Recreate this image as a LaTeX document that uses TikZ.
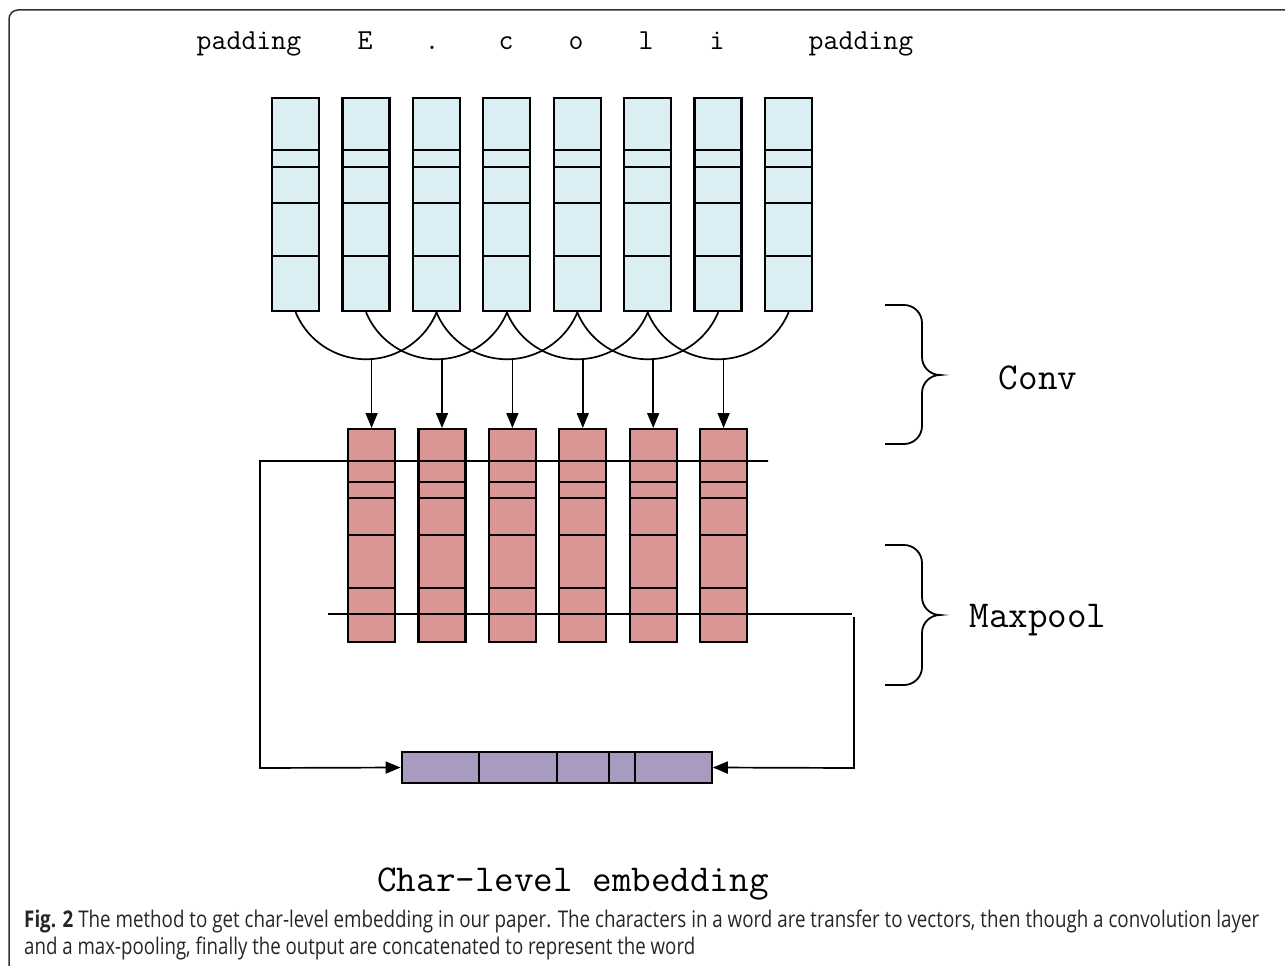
\documentclass[tikz,border=0pt]{standalone}
\usepackage{fontspec}
\usepackage{graphicx}
\newfontfamily\capfont{Open Sans}
\usetikzlibrary{arrows.meta,calc}
\definecolor{cblue}{HTML}{DAEEF3}
\definecolor{cred}{HTML}{D99694}
\definecolor{cpurple}{HTML}{A99BC0}
\tikzset{
  colbox/.style={draw=black, line width=2.2pt, minimum width=47pt, minimum height=213pt, inner sep=0pt, anchor=north west},
  cell/.style={line width=2.2pt},
  link/.style={line width=1.7pt},
  arr/.style={line width=1.7pt, -{Triangle[length=15pt,width=12pt]}},
  wire/.style={line width=1.7pt},
  wirearr/.style={line width=1.7pt, -{Triangle[length=15pt,width=12pt]}},
  brace/.style={line width=1.8pt},
  toplab/.style={font=\fontsize{29}{34}\selectfont\ttfamily, anchor=base, inner sep=0pt},
  biglab/.style={font=\fontsize{38}{44}\selectfont\ttfamily, anchor=base, inner sep=0pt},
  caplab/.style={font=\fontsize{23}{27}\selectfont\capfont, anchor=base west, inner sep=0pt, text=black!85},
}
\begin{document}
\begin{tikzpicture}[x=1pt,y=1pt]
\useasboundingbox (0,0) rectangle (1285,-966);
\clip (0,0) rectangle (1285,-966);
% frame
\draw[line width=1.5pt, draw=black!80, rounded corners=9pt] (9,-10) rectangle (1320,-990);

% blue columns
\foreach \i in {1,...,8}{
  \pgfmathsetmacro{\xl}{271+70.4*(\i-1)}
  \node[colbox, fill=cblue] (b\i) at (\xl,-97) {};
  \foreach \yy in {150,167,203,256}{
    \draw[cell] (\xl,-\yy) -- ++(47,0);
  }
}
% red columns
\foreach \j in {1,...,6}{
  \pgfmathsetmacro{\xl}{347+70.4*(\j-1)}
  \node[colbox, fill=cred] (r\j) at (\xl,-428) {};
  \foreach \yy in {482,498,535,588}{
    \draw[cell] (\xl,-\yy) -- ++(47,0);
  }
}
% conv arcs
\foreach \i in {1,...,6}{
  \draw[link] (b\i.south) arc[start angle=202.6, end angle=337.4, radius=76.4];
}
% arrows to red columns
\foreach \j in {1,...,6}{
  \coordinate (a\j) at ($(r\j.north)+(0,70)$);
  \draw[arr] (a\j) -- (r\j.north);
}

% purple output vector
\node[draw=black, line width=2.2pt, fill=cpurple, minimum width=310pt, minimum height=31.6pt, inner sep=0pt] (p) at (556.7,-767.5) {};
\foreach \xx in {479,557,609,635}{
  \draw[cell] (\xx,-751.7) -- (\xx,-783.3);
}

% wires
\coordinate (wa) at (768,-461);
\coordinate (wb) at (328,-614);
\draw[wirearr] (wa) -- (260,-461) -- (260,-768) -- (p.west);
\draw[wire] (wb) -- (852,-614);
\coordinate (wc) at (854,-617);
\draw[wirearr] (wc) -- (854,-768) -- (p.east);

% braces
\draw[brace] (885,-305) -- (904,-305) arc[start angle=90, end angle=0, radius=18]
  -- (922,-357) arc[start angle=180, end angle=270, radius=18]
  arc[start angle=90, end angle=180, radius=18]
  -- (922,-426) arc[start angle=0, end angle=-90, radius=18] -- (885,-444);
\draw[brace] (885,-545) -- (904,-545) arc[start angle=90, end angle=0, radius=18]
  -- (922,-597) arc[start angle=180, end angle=270, radius=18]
  arc[start angle=90, end angle=180, radius=18]
  -- (922,-667) arc[start angle=0, end angle=-90, radius=18] -- (885,-685);

% labels
\node[toplab] (t0) at (249,-50) {padding};
\node[toplab] (t1) at (365,-50) {E};
\node[toplab] (t2) at (432,-50) {.};
\node[toplab] (t3) at (506,-50) {c};
\node[toplab] (t4) at (576,-50) {o};
\node[toplab] (t5) at (646,-50) {l};
\node[toplab] (t6) at (717,-50) {i};
\node[toplab] (t7) at (861,-50) {padding};
\node[biglab] (conv) at (1038,-389) {Conv};
\node[biglab] (maxp) at (1038,-627) {Maxpool};
\node[biglab] (cle) at (573,-891) {Char-level embedding};

% caption
\node[caplab] (cap1) at (24,-927) {\resizebox{1235pt}{\height}{\textbf{Fig. 2} The method to get char-level embedding in our paper. The characters in a word are transfer to vectors, then though a convolution layer}};
\node[caplab] (cap2) at (24,-954) {\resizebox{671pt}{\height}{and a max-pooling, finally the output are concatenated to represent the word}};
\end{tikzpicture}
\end{document}
